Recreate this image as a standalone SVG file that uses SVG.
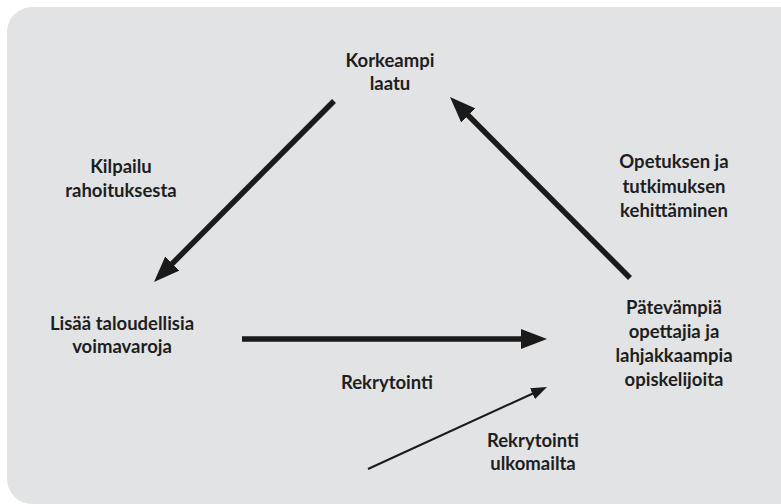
<svg xmlns="http://www.w3.org/2000/svg" width="781" height="504" viewBox="0 0 781 504">
  <style>
    .bg { fill: #e2e3e5; }
    .lbl { font-family: Lato, "Open Sans", sans-serif; font-weight: bold; font-size: 18.5px; fill: #1e1e1e; text-anchor: middle; }
    .thick { stroke: #1a1a1a; stroke-width: 5.5; fill: none; }
    .thin { stroke: #1a1a1a; stroke-width: 2; fill: none; }
  </style>
  <defs>
    <marker id="headBig" viewBox="0 0 26 20" refX="6" refY="10" markerWidth="26" markerHeight="20" markerUnits="userSpaceOnUse" orient="auto">
      <path d="M0,0 L26,10 L0,20 Z" fill="#1a1a1a"/>
    </marker>
    <marker id="headSmall" viewBox="0 0 16 12" refX="4" refY="6" markerWidth="16" markerHeight="12" markerUnits="userSpaceOnUse" orient="auto">
      <path d="M0,0 L16,6 L0,12 Z" fill="#1a1a1a"/>
    </marker>
  </defs>

  <!-- panel -->
  <path class="bg" d="M7,32 A25,25 0 0 1 32,7 H781 V504 H32 A25,25 0 0 1 7,479 Z"/>

  <!-- connectors -->
  <g id="connectors">
    <line class="thick" x1="334" y1="101" x2="168.1" y2="267.8" marker-end="url(#headBig)"/>
    <line class="thick" x1="630" y1="278" x2="464.1" y2="111.2" marker-end="url(#headBig)"/>
    <line class="thick" x1="242" y1="339" x2="527" y2="339" marker-end="url(#headBig)"/>
    <line class="thin" x1="368" y1="469" x2="536.1" y2="392" marker-end="url(#headSmall)"/>
    <text class="lbl" x="121" y="173">Kilpailu</text>
    <text class="lbl" x="121" y="197">rahoituksesta</text>
    <text class="lbl" x="674" y="168">Opetuksen ja</text>
    <text class="lbl" x="674" y="193">tutkimuksen</text>
    <text class="lbl" x="674" y="217">kehittäminen</text>
    <text class="lbl" x="387" y="389">Rekrytointi</text>
    <text class="lbl" x="533" y="447">Rekrytointi</text>
    <text class="lbl" x="533" y="470">ulkomailta</text>
  </g>

  <!-- nodes -->
  <g id="quality">
    <text class="lbl" x="390" y="67">Korkeampi</text>
    <text class="lbl" x="390" y="90">laatu</text>
  </g>
  <g id="resources">
    <text class="lbl" x="122" y="330">Lisää taloudellisia</text>
    <text class="lbl" x="122" y="353">voimavaroja</text>
  </g>
  <g id="talent">
    <text class="lbl" x="674" y="314">Pätevämpiä</text>
    <text class="lbl" x="674" y="338">opettajia ja</text>
    <text class="lbl" x="674" y="362">lahjakkaampia</text>
    <text class="lbl" x="674" y="386">opiskelijoita</text>
  </g>
</svg>
